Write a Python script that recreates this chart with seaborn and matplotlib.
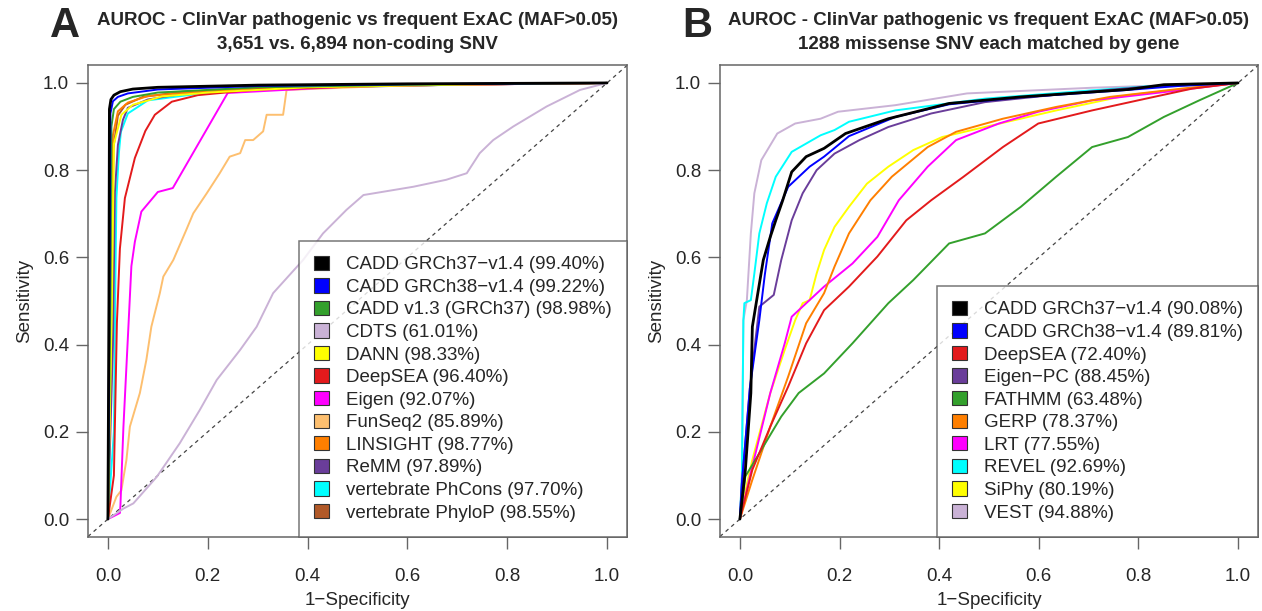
import numpy as np
import pandas as pd
import matplotlib
matplotlib.use("Agg")
import matplotlib.pyplot as plt
from matplotlib.patches import Patch
import seaborn as sns

sns.set_theme(style="white")
plt.rcParams['font.family'] = ['Liberation Sans', 'DejaVu Sans']
plt.rcParams['axes.unicode_minus'] = False

M = "\u2212"

# ====================== panel A: non-coding SNV ======================
a_tools = [f"CADD GRCh37{M}v1.4 (99.40%)", f"CADD GRCh38{M}v1.4 (99.22%)",
           "CADD v1.3 (GRCh37) (98.98%)", "CDTS (61.01%)", "DANN (98.33%)",
           "DeepSEA (96.40%)", "Eigen (92.07%)", "FunSeq2 (85.89%)",
           "LINSIGHT (98.77%)", "ReMM (97.89%)", "vertebrate PhCons (97.70%)",
           "vertebrate PhyloP (98.55%)"]
a_colors = ["#000000", "#0000ff", "#33a02c", "#cab2d6", "#ffff00", "#e31a1c",
            "#ff00ff", "#fdbf6f", "#ff7f00", "#6a3d9a", "#00ffff", "#b15928"]

a_fpr = [
    [0, 0.002, 0.003, 0.006, 0.012, 0.025, 0.05, 0.1, 0.3, 0.6, 1],
    [0, 0.003, 0.005, 0.01, 0.02, 0.04, 0.1, 0.3, 0.6, 1],
    [0, 0.005, 0.007, 0.012, 0.025, 0.05, 0.1, 0.3, 0.6, 1],
    [0, 0.031, 0.051, 0.098, 0.144, 0.184, 0.218, 0.265, 0.298, 0.331, 0.391,
     0.431, 0.478, 0.512, 0.612, 0.678, 0.719, 0.745, 0.772, 0.812, 0.879, 0.946, 1],
    [0, 0.008, 0.012, 0.027, 0.05, 0.108, 0.2, 0.4, 0.7, 1],
    [0, 0.012, 0.018, 0.024, 0.034, 0.054, 0.075, 0.094, 0.128, 0.18, 0.3, 0.6, 1],
    [0, 0.024, 0.025, 0.031, 0.041, 0.047, 0.054, 0.067, 0.1, 0.13, 0.24, 0.5, 1],
    [0, 0.017, 0.027, 0.037, 0.044, 0.064, 0.077, 0.087, 0.104, 0.111, 0.131,
     0.157, 0.171, 0.198, 0.224, 0.244, 0.265, 0.275, 0.291, 0.311, 0.318,
     0.351, 0.358, 0.6, 1],
    [0, 0.007, 0.01, 0.02, 0.04, 0.08, 0.2, 0.4, 0.7, 1],
    [0, 0.01, 0.014, 0.02, 0.03, 0.04, 0.08, 0.15, 0.35, 0.7, 1],
    [0, 0.012, 0.015, 0.017, 0.022, 0.026, 0.04, 0.08, 0.2, 0.4, 0.7, 1],
    [0, 0.008, 0.011, 0.02, 0.035, 0.07, 0.15, 0.35, 0.7, 1],
]
a_tpr = [
    [0, 0.5, 0.94, 0.962, 0.972, 0.98, 0.986, 0.99, 0.995, 0.998, 1],
    [0, 0.5, 0.93, 0.958, 0.968, 0.976, 0.985, 0.993, 0.997, 1],
    [0, 0.5, 0.9, 0.94, 0.957, 0.968, 0.978, 0.99, 0.996, 1],
    [0, 0.024, 0.036, 0.097, 0.174, 0.25, 0.319, 0.388, 0.441, 0.518, 0.594,
     0.655, 0.709, 0.743, 0.762, 0.778, 0.793, 0.839, 0.869, 0.9, 0.946, 0.984, 1],
    [0, 0.5, 0.86, 0.927, 0.95, 0.969, 0.978, 0.99, 0.996, 1],
    [0, 0.1, 0.45, 0.62, 0.736, 0.828, 0.89, 0.927, 0.957, 0.972, 0.985, 0.995, 1],
    [0, 0.014, 0.03, 0.21, 0.44, 0.58, 0.636, 0.705, 0.75, 0.759, 0.977, 0.993, 1],
    [0, 0.051, 0.066, 0.135, 0.212, 0.289, 0.365, 0.441, 0.518, 0.556, 0.594,
     0.663, 0.701, 0.747, 0.793, 0.831, 0.839, 0.869, 0.869, 0.889, 0.927,
     0.927, 0.984, 0.995, 1],
    [0, 0.5, 0.88, 0.935, 0.955, 0.97, 0.982, 0.99, 0.996, 1],
    [0, 0.4, 0.75, 0.858, 0.915, 0.943, 0.962, 0.975, 0.988, 0.996, 1],
    [0, 0.2, 0.55, 0.736, 0.84, 0.888, 0.93, 0.96, 0.978, 0.99, 0.996, 1],
    [0, 0.5, 0.85, 0.925, 0.95, 0.968, 0.98, 0.99, 0.996, 1],
]

# ====================== panel B: missense SNV ======================
b_tools = [f"CADD GRCh37{M}v1.4 (90.08%)", f"CADD GRCh38{M}v1.4 (89.81%)",
           "DeepSEA (72.40%)", f"Eigen{M}PC (88.45%)", "FATHMM (63.48%)",
           "GERP (78.37%)", "LRT (77.55%)", "REVEL (92.69%)", "SiPhy (80.19%)",
           "VEST (94.88%)"]
b_colors = ["#000000", "#0000ff", "#e31a1c", "#6a3d9a", "#33a02c", "#ff7f00",
            "#ff00ff", "#00ffff", "#ffff00", "#cab2d6"]

b_fpr = [
    [0, 0.011, 0.022, 0.025, 0.036, 0.047, 0.061, 0.072, 0.086, 0.104, 0.133,
     0.169, 0.212, 0.298, 0.42, 0.564, 0.779, 0.851, 1],
    [0, 0.004, 0.02, 0.039, 0.05, 0.065, 0.097, 0.14, 0.169, 0.219, 0.312,
     0.42, 0.564, 0.779, 0.88, 1],
    [0, 0.025, 0.061, 0.097, 0.133, 0.169, 0.219, 0.276, 0.334, 0.384, 0.449,
     0.528, 0.599, 0.707, 0.815, 0.908, 1],
    [0, 0.004, 0.02, 0.039, 0.068, 0.083, 0.104, 0.126, 0.154, 0.19, 0.24,
     0.298, 0.384, 0.492, 0.65, 0.8, 1],
    [0, 0.011, 0.039, 0.083, 0.118, 0.169, 0.226, 0.298, 0.348, 0.42, 0.492,
     0.564, 0.635, 0.707, 0.779, 0.851, 0.922, 1],
    [0, 0.025, 0.061, 0.097, 0.133, 0.169, 0.19, 0.219, 0.262, 0.305, 0.377,
     0.434, 0.528, 0.635, 0.743, 0.887, 1],
    [0, 0.025, 0.061, 0.09, 0.104, 0.169, 0.226, 0.276, 0.319, 0.377, 0.434,
     0.52, 0.599, 0.707, 0.851, 1],
    [0, 0.004, 0.007, 0.009, 0.022, 0.029, 0.039, 0.054, 0.072, 0.104, 0.133,
     0.162, 0.19, 0.219, 0.312, 0.492, 0.707, 0.815, 1],
    [0, 0.004, 0.025, 0.061, 0.09, 0.111, 0.126, 0.14, 0.154, 0.169, 0.19,
     0.219, 0.255, 0.298, 0.348, 0.406, 0.492, 0.635, 0.779, 1],
    [0, 0.004, 0.007, 0.014, 0.022, 0.029, 0.043, 0.075, 0.111, 0.162, 0.197,
     0.312, 0.456, 0.707, 1],
]
b_tpr = [
    [0, 0.113, 0.289, 0.441, 0.518, 0.594, 0.647, 0.685, 0.731, 0.796, 0.831,
     0.85, 0.884, 0.918, 0.953, 0.968, 0.985, 0.996, 1],
    [0, 0.082, 0.3, 0.456, 0.56, 0.678, 0.762, 0.808, 0.831, 0.878, 0.922,
     0.951, 0.967, 0.984, 0.993, 1],
    [0, 0.113, 0.212, 0.304, 0.403, 0.479, 0.533, 0.602, 0.685, 0.731, 0.785,
     0.853, 0.907, 0.937, 0.964, 0.987, 1],
    [0, 0.082, 0.3, 0.487, 0.514, 0.594, 0.685, 0.747, 0.8, 0.838, 0.869,
     0.899, 0.93, 0.956, 0.975, 0.99, 1],
    [0, 0.098, 0.151, 0.235, 0.289, 0.334, 0.403, 0.495, 0.548, 0.632, 0.655,
     0.716, 0.785, 0.853, 0.876, 0.922, 0.96, 1],
    [0, 0.09, 0.212, 0.327, 0.449, 0.518, 0.579, 0.655, 0.731, 0.785, 0.853,
     0.888, 0.918, 0.945, 0.968, 0.987, 1],
    [0, 0.121, 0.289, 0.403, 0.464, 0.533, 0.586, 0.647, 0.731, 0.808, 0.869,
     0.907, 0.934, 0.96, 0.979, 1],
    [0, 0.098, 0.456, 0.495, 0.502, 0.563, 0.655, 0.724, 0.785, 0.842, 0.861,
     0.88, 0.892, 0.911, 0.937, 0.964, 0.983, 0.992, 1],
    [0, 0.029, 0.136, 0.289, 0.388, 0.456, 0.495, 0.502, 0.563, 0.617, 0.67,
     0.716, 0.769, 0.808, 0.846, 0.876, 0.899, 0.937, 0.972, 1],
    [0, 0.098, 0.456, 0.502, 0.655, 0.747, 0.823, 0.884, 0.907, 0.918, 0.934,
     0.949, 0.976, 0.989, 1],
]


def long_df(tools, fprs, tprs):
    rows = []
    for t, xs, ys in zip(tools, fprs, tprs):
        for i, (x, y) in enumerate(zip(xs, ys)):
            rows.append((t, i, x, y))
    return pd.DataFrame(rows, columns=["tool", "step", "fpr", "tpr"])


def draw_panel(fig, ax, tools, colors, fprs, tprs, letter, title):
    df = long_df(tools, fprs, tprs)
    pal = dict(zip(tools, colors))
    ax.plot([-0.04, 1.04], [-0.04, 1.04], color="#444444", lw=0.9,
            ls=(0, (3, 3)), zorder=1)
    # draw in reverse so the first legend entry ends on top
    for t in tools[::-1]:
        sub = df[df["tool"] == t]
        sns.lineplot(data=sub, x="fpr", y="tpr", color=pal[t], sort=False,
                     estimator=None, ax=ax, lw=2.0 if pal[t] == "#000000" else 1.4,
                     zorder=2)
    ax.set_xlim(-0.04, 1.04)
    ax.set_ylim(-0.04, 1.04)
    ticks = [0.0, 0.2, 0.4, 0.6, 0.8, 1.0]
    ax.set_xticks(ticks)
    ax.set_yticks(ticks)
    ax.set_xticklabels([f"{v:.1f}" for v in ticks])
    ax.set_yticklabels([f"{v:.1f}" for v in ticks])
    ax.tick_params(direction="out", length=8.5, width=1, color="#666666",
                   labelsize=13.5, bottom=True, left=True)
    ax.tick_params(axis="x", pad=14)
    ax.tick_params(axis="y", pad=5)
    for s in ax.spines.values():
        s.set_color("#666666")
        s.set_linewidth(1.1)
    ax.set_xlabel(f"1{M}Specificity", fontsize=13.5, labelpad=5)
    ax.set_ylabel("Sensitivity", fontsize=13.5, labelpad=7)
    bb = ax.get_position()
    cx = (bb.x0 + bb.x1) / 2
    fig.text(cx, 1 - 32.5 / 611, title, ha="center", va="center",
             fontsize=13.5, fontweight="bold", linespacing=1.55)
    fig.text(bb.x0 - 23 / 1262, 1 - 26 / 611, letter, ha="center", va="center",
             fontsize=30, fontweight="bold")
    handles = [Patch(facecolor=c, edgecolor="#333333", lw=0.8) for c in colors]
    leg = ax.legend(handles, tools, loc="lower right", borderaxespad=0,
                    fontsize=13.5, frameon=True, fancybox=False,
                    handlelength=0.8, handleheight=0.8, handletextpad=0.9,
                    labelspacing=0.26, borderpad=0.8)
    leg.get_frame().set_edgecolor("#555555")
    leg.get_frame().set_linewidth(1.1)


fig = plt.figure(figsize=(12.62, 6.11), dpi=100)
ax1 = fig.add_axes([0.0697, 0.1219, 0.4271, 0.7709])
ax2 = fig.add_axes([0.5705, 0.1219, 0.4263, 0.7709])

draw_panel(fig, ax1, a_tools, a_colors, a_fpr, a_tpr, "A",
           "AUROC - ClinVar pathogenic vs frequent ExAC (MAF>0.05)\n3,651 vs. 6,894 non-coding SNV")
draw_panel(fig, ax2, b_tools, b_colors, b_fpr, b_tpr, "B",
           "AUROC - ClinVar pathogenic vs frequent ExAC (MAF>0.05)\n1288 missense SNV each matched by gene")

fig.savefig("out.png", dpi=100)
